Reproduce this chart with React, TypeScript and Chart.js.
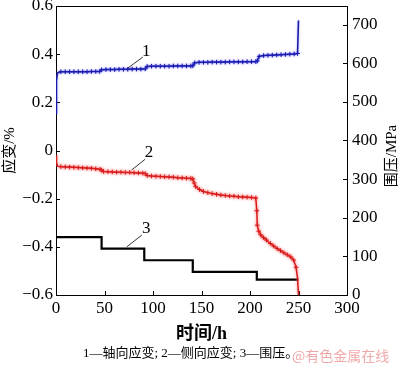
import React, { useEffect, useRef } from 'react';
import { Chart, registerables } from 'chart.js';

Chart.register(...registerables);

// ---- data ----
const axialTime = [
  0, 0.5, 1.5, 5, 9.5, 14, 18.5, 23, 27.5, 32, 36.5, 41, 45, 47, 51.5, 56, 60.5, 65, 69.5, 74, 78.5, 83, 87.5, 92,
  94, 98.5, 103, 107.5, 112, 116.5, 121, 125.5, 130, 134.5, 139, 141, 143, 147.5, 152, 156.5, 161, 165.5, 170,
  174.5, 179, 183.5, 188, 192.5, 197, 201.5, 206, 207.5, 209.5, 214, 218.5, 223, 227.5, 232, 236.5, 241, 245.5,
  249, 250,
];
const axialStrain = [
  0.155, 0.29, 0.322, 0.327, 0.327, 0.327, 0.327, 0.327, 0.327, 0.327, 0.328, 0.328, 0.328, 0.335, 0.336, 0.336,
  0.336, 0.337, 0.337, 0.337, 0.338, 0.338, 0.338, 0.339, 0.349, 0.35, 0.35, 0.35, 0.35, 0.35, 0.351, 0.351,
  0.351, 0.351, 0.351, 0.352, 0.364, 0.366, 0.366, 0.366, 0.367, 0.367, 0.367, 0.367, 0.368, 0.368, 0.368, 0.368,
  0.369, 0.369, 0.369, 0.372, 0.391, 0.394, 0.395, 0.396, 0.397, 0.398, 0.399, 0.4, 0.401, 0.403, 0.54,
];

const lateralTime = [
  0, 0.5, 1.5, 5, 9.5, 14, 18.5, 23, 27.5, 32, 36.5, 41, 45.5, 47, 49, 53.5, 58, 62.5, 67, 71.5, 76, 80.5, 85,
  89.5, 92, 94, 98.5, 103, 107.5, 112, 116.5, 121, 125.5, 130, 134.5, 139, 141, 142.5, 144, 148, 152, 156.5, 161,
  165.5, 170, 174.5, 179, 183.5, 188, 192.5, 197, 201.5, 206, 207, 207.5, 209, 211, 214, 217, 221, 224.5, 228,
  231.5, 235, 238.5, 242, 245, 247.5, 249, 250,
];
const lateralStrain = [
  -0.02, -0.05, -0.065, -0.067, -0.068, -0.069, -0.07, -0.071, -0.072, -0.073, -0.074, -0.076, -0.078, -0.082,
  -0.087, -0.088, -0.089, -0.09, -0.09, -0.091, -0.091, -0.092, -0.093, -0.094, -0.096, -0.104, -0.106, -0.107,
  -0.108, -0.109, -0.11, -0.111, -0.113, -0.114, -0.115, -0.116, -0.118, -0.135, -0.15, -0.162, -0.17, -0.175,
  -0.179, -0.182, -0.185, -0.187, -0.189, -0.19, -0.192, -0.193, -0.194, -0.195, -0.197, -0.25, -0.31, -0.335,
  -0.35, -0.362, -0.372, -0.386, -0.397, -0.407, -0.416, -0.425, -0.433, -0.442, -0.455, -0.485, -0.53, -0.6,
];

const pressureTime = [0, 47, 91, 141, 207, 250];
const pressureMPa = [150, 120, 90, 60, 40, 40];

const xTickStep = 50;
const strainTickStep = 0.2;
const pressureTickStep = 100;

const curveNumbers = ['1', '2', '3'];
const xTitle = '时间/h';
const yTitle = '应变/%';
const y1Title = '围压/MPa';
const caption = '1—轴向应变; 2—侧向应变; 3—围压。';
const watermark = '@有色金属在线';

const SERIF = '"Liberation Serif", "Times New Roman", "Noto Sans CJK SC", serif';
const BLUE = '#1a1aa8';
const RED = '#d41a1a';

function pts(xs: number[], ys: number[]) {
  return xs.map((x, i) => ({ x, y: ys[i] }));
}

function zeroPad(s: any) {
  s.paddingTop = 0;
  s.paddingBottom = 0;
  s.paddingLeft = 0;
  s.paddingRight = 0;
}

// markers are not drawn on the very first points and on the final failure points
function markerRadius(headSkip: number, tailSkip: number) {
  return (c: any) => {
    const n = c.dataset.data.length;
    const i = c.dataIndex;
    return i < headSkip || i >= n - tailSkip ? 0 : 2.3;
  };
}

const decorPlugin = {
  id: 'decor',
  beforeDatasetDraw(chart: any, args: any) {
    const ctx = chart.ctx;
    ctx.save();
    if (args.index === 0) {
      ctx.shadowColor = 'rgba(90,90,255,0.7)';
      ctx.shadowBlur = 2;
    } else if (args.index === 1) {
      ctx.shadowColor = 'rgba(255,90,90,0.8)';
      ctx.shadowBlur = 3;
    }
  },
  afterDatasetDraw(chart: any) {
    chart.ctx.restore();
  },
  beforeDatasetsDraw(chart: any) {
    const { ctx, chartArea: a, scales } = chart;
    ctx.save();
    ctx.strokeStyle = '#000';
    ctx.lineWidth = 1;
    ctx.beginPath();
    ctx.moveTo(a.left, a.top + 0.5);
    ctx.lineTo(a.right, a.top + 0.5);
    const L = 4;
    scales.x.ticks.forEach((t: any) => {
      const px = Math.round(scales.x.getPixelForValue(t.value)) + 0.5;
      ctx.moveTo(px, a.bottom);
      ctx.lineTo(px, a.bottom - L);
    });
    scales.y.ticks.forEach((t: any) => {
      const py = Math.round(scales.y.getPixelForValue(t.value)) + 0.5;
      ctx.moveTo(a.left, py);
      ctx.lineTo(a.left + L, py);
    });
    scales.y1.ticks.forEach((t: any) => {
      const py = Math.round(scales.y1.getPixelForValue(t.value)) + 0.5;
      ctx.moveTo(a.right, py);
      ctx.lineTo(a.right - L, py);
    });
    ctx.stroke();
    ctx.restore();
  },
  afterDraw(chart: any) {
    const { ctx, scales } = chart;
    const X = (v: number) => scales.x.getPixelForValue(v);
    const Y = (v: number) => scales.y.getPixelForValue(v);
    ctx.save();
    const notes = [
      { t: 93, v: 0.41, from: [74, 0.342], to: [89.5, 0.388] },
      { t: 96, v: -0.007, from: [78, -0.081], to: [92, -0.036] },
      { t: 93, v: -0.326, from: [73, -0.4], to: [88.5, -0.351] },
    ];
    ctx.strokeStyle = '#000';
    ctx.lineWidth = 0.8;
    ctx.fillStyle = '#000';
    ctx.font = '17px ' + SERIF;
    ctx.textAlign = 'center';
    ctx.textBaseline = 'middle';
    notes.forEach((n, i) => {
      ctx.beginPath();
      ctx.moveTo(X(n.from[0]), Y(n.from[1]));
      ctx.lineTo(X(n.to[0]), Y(n.to[1]));
      ctx.stroke();
      ctx.fillText(curveNumbers[i], X(n.t), Y(n.v));
    });
    ctx.save();
    ctx.translate(392, 156);
    ctx.rotate(-Math.PI / 2);
    ctx.font = '15px ' + SERIF;
    ctx.fillText(y1Title, 0, 0);
    ctx.restore();
    ctx.font = '13px ' + SERIF;
    ctx.textAlign = 'left';
    ctx.fillStyle = '#000';
    ctx.fillText(caption, 83, 354);
    ctx.font = '14px "Noto Sans CJK SC", sans-serif';
    ctx.fillStyle = 'rgba(235,140,140,0.75)';
    ctx.fillText(watermark, 292, 356);
    ctx.restore();
  },
};

export default function App() {
  const ref = useRef<HTMLCanvasElement>(null);
  useEffect(() => {
    document.body.style.margin = '0';
    const canvas = ref.current;
    if (!canvas) return;
    const tickFont = { family: SERIF, size: 17 };
    const chart = new Chart(canvas, {
      type: 'line',
      data: {
        datasets: [
          {
            label: '轴向应变',
            data: pts(axialTime, axialStrain),
            yAxisID: 'y',
            borderColor: BLUE,
            backgroundColor: BLUE,
            borderWidth: 1.5,
            pointStyle: 'cross',
            pointRadius: markerRadius(3, 1),
            pointBorderWidth: 1,
            pointBorderColor: BLUE,
            tension: 0,
          },
          {
            label: '侧向应变',
            data: pts(lateralTime, lateralStrain),
            yAxisID: 'y',
            borderColor: RED,
            backgroundColor: RED,
            borderWidth: 1.5,
            pointStyle: 'cross',
            pointRadius: markerRadius(3, 2),
            pointBorderWidth: 1,
            pointBorderColor: RED,
            tension: 0,
          },
          {
            label: '围压',
            data: pts(pressureTime, pressureMPa),
            yAxisID: 'y1',
            borderColor: '#000',
            backgroundColor: '#000',
            borderWidth: 2.2,
            pointRadius: 0,
            stepped: true,
          },
        ],
      },
      options: {
        responsive: false,
        animation: false,
        events: [],
        layout: { padding: { top: 6, left: 0, right: 0, bottom: 0 } },
        plugins: {
          legend: { display: false },
          tooltip: { enabled: false },
          title: { display: false },
        },
        scales: {
          x: {
            type: 'linear',
            position: 'bottom',
            min: 0,
            max: 300,
            ticks: { stepSize: xTickStep, font: tickFont, color: '#000', padding: 3, maxRotation: 0 },
            grid: { display: false, drawTicks: false },
            border: { display: true, color: '#000', width: 1 },
            title: {
              display: true,
              text: xTitle,
              color: '#000',
              font: { family: SERIF, size: 18, weight: 'bold' },
              padding: { top: 0, bottom: 22 },
            },
            afterFit: (s: any) => {
              s.height = 72;
              zeroPad(s);
            },
          },
          y: {
            type: 'linear',
            position: 'left',
            min: -0.6,
            max: 0.6,
            ticks: {
              stepSize: strainTickStep,
              font: tickFont,
              color: '#000',
              padding: 3,
              callback: (v: any) => {
                const n = Number(v);
                if (Math.abs(n) < 1e-9) return '0';
                return (n < 0 ? '−' : '') + Math.abs(n).toFixed(1);
              },
            },
            grid: { display: false, drawTicks: false },
            border: { display: true, color: '#000', width: 1 },
            title: {
              display: true,
              text: yTitle,
              color: '#000',
              font: { family: SERIF, size: 15 },
              padding: { top: 1, bottom: 0 },
            },
            afterFit: (s: any) => {
              s.width = 56;
              zeroPad(s);
            },
          },
          y1: {
            type: 'linear',
            position: 'right',
            min: 0,
            max: 748,
            ticks: {
              stepSize: pressureTickStep,
              includeBounds: false,
              font: tickFont,
              color: '#000',
              padding: 5,
            },
            grid: { display: false, drawTicks: false },
            border: { display: true, color: '#000', width: 1 },
            afterFit: (s: any) => {
              s.width = 53;
              zeroPad(s);
            },
          },
        },
      },
      plugins: [decorPlugin],
    } as any);
    return () => chart.destroy();
  }, []);
  return (
    <div style={{ width: 400, height: 367, background: '#fff' }}>
      <canvas ref={ref} width={400} height={367} style={{ display: 'block' }} />
    </div>
  );
}
